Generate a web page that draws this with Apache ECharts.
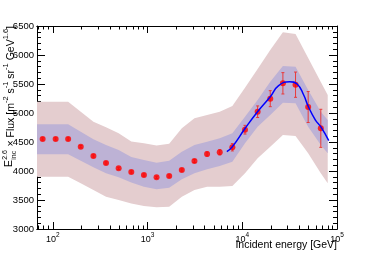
<!DOCTYPE html>
<html><head><meta charset="utf-8">
<script src="https://cdn.jsdelivr.net/npm/echarts@6/dist/echarts.min.js"></script>
<style>html,body{margin:0;padding:0;background:#fff}#c{width:374px;height:255px}</style>
</head><body><div id="c"></div>
<script>
// Measured points
const energies = [78,107,145,197,268,364,495,673,915,1244,1691,2299,3126,4250,5778,7856,10680,14520,19740,26840,36490,49610,67450];
const flux = [4552,4552,4552,4419,4259,4138,4046,3983,3931,3891,3914,4017,4172,4293,4322,4409,4712,5022,5247,5512,5488,5103,4736];
const fluxErr = [20,20,20,20,20,20,20,20,20,20,20,20,25,35,45,63,75,100,138,184,218,267,328];
// Band vertices (axis start, each point energy, band end)
const bandEnergies = [68,78,107,145,197,268,364,495,673,915,1244,1691,2299,3126,4250,5778,7856,10680,14520,19740,26840,36490,49610,67450,79800];
const outerHigh = [5195,5195,5195,5195,5022,4850,4753,4650,4510,4480,4440,4470,4736,4908,4966,5022,5121,5437,5759,6086,6391,6362,5948,5534,5310];
const innerHigh = [4805,4805,4805,4805,4678,4546,4448,4362,4240,4190,4143,4178,4333,4448,4506,4563,4650,4937,5224,5540,5810,5799,5397,5022,4879];
const innerLow  = [4288,4288,4288,4288,4178,4063,3960,3891,3800,3730,3684,3713,3857,3960,4029,4086,4161,4477,4764,4966,5178,5167,4764,4448,4305];
const outerLow  = [3902,3902,3902,3902,3788,3672,3557,3500,3440,3397,3374,3385,3557,3672,3730,3730,3740,3960,4219,4420,4621,4603,4305,3960,3788];
// Fitted curve
const curveE = [6867,7870,10730,14490,19750,24180,31640,37870,44490,49530,59180,67330,81850];
const curveV = [4333,4420,4736,5022,5281,5471,5540,5500,5310,5121,4879,4764,4523];
// Axis ticks
const xMajorTicks = [100,1000,10000,100000];
const xMinorTicks = [70,80,90,200,300,400,500,600,700,800,900,2000,3000,4000,5000,6000,7000,8000,9000,20000,30000,40000,50000,60000,70000,80000,90000];
const xMin = 68, xMax = 100000;
const yMin = 3000, yMax = 6500, yStep = 500;

const FONT = 'Liberation Sans, Arial, Helvetica, sans-serif';
const chart = echarts.init(document.getElementById('c'), null, {renderer: 'canvas'});

function bandSeries(high, low, color) {
  return {
    type: 'custom', xAxisIndex: 0, yAxisIndex: 0, silent: true,
    data: bandEnergies.map((e, i) => [e, high[i], low[i]]),
    encode: {x: 0, y: [1, 2]},
    renderItem: function (params, api) {
      if (params.dataIndexInside !== 0) return null;
      const n = params.dataInsideLength;
      const top = [], bot = [];
      for (let i = 0; i < n; i++) {
        top.push(api.coord([api.value(0, i), api.value(1, i)]));
        bot.push(api.coord([api.value(0, i), api.value(2, i)]));
      }
      return {type: 'polygon', shape: {points: top.concat(bot.reverse())}, style: {fill: color}};
    }
  };
}

function xAxisCfg(pos, ticks, len, labels) {
  return {
    type: 'log', logBase: 10, min: xMin, max: xMax, position: pos,
    axisLine: {show: true, onZero: false, lineStyle: {color: '#000', width: 1}},
    axisTick: {show: true, inside: true, length: len, customValues: ticks, lineStyle: {color: '#000', width: 1}},
    axisLabel: labels ? {
      show: true, margin: 3, customValues: xMajorTicks,
      formatter: v => '{b|10}{s|' + Math.round(Math.log10(v)) + '}',
      rich: {
        b: {fontSize: 9, fontFamily: FONT, color: '#000', verticalAlign: 'bottom', lineHeight: 12},
        s: {fontSize: 6.5, fontFamily: FONT, color: '#000', verticalAlign: 'top', lineHeight: 12}
      }
    } : {show: false},
    splitLine: {show: false}, minorSplitLine: {show: false}
  };
}
function yAxisCfg(pos, labels) {
  return {
    type: 'value', min: yMin, max: yMax, interval: yStep, position: pos,
    axisLine: {show: true, onZero: false, lineStyle: {color: '#000', width: 1}},
    axisTick: {show: true, inside: true, length: 8, lineStyle: {color: '#000', width: 1}},
    minorTick: {show: true, splitNumber: 5, length: 4, lineStyle: {color: '#000', width: 1}},
    axisLabel: labels ? {show: true, margin: 3, fontSize: 9.5, fontFamily: FONT, color: '#000', formatter: v => String(v)} : {show: false},
    splitLine: {show: false}, minorSplitLine: {show: false}
  };
}

const option = {
  animation: false,
  backgroundColor: '#fff',
  grid: {left: 37, right: 37, top: 26, bottom: 26},
  xAxis: [
    xAxisCfg('bottom', xMajorTicks, 7, true),
    xAxisCfg('bottom', xMinorTicks, 3.5, false),
    xAxisCfg('top', xMajorTicks, 7, false),
    xAxisCfg('top', xMinorTicks, 3.5, false)
  ],
  yAxis: [yAxisCfg('left', true), yAxisCfg('right', false)],
  graphic: [
    {
      type: 'text', right: 37, top: 240, silent: true,
      style: {text: 'Incident energy [GeV]', font: '10.5px ' + FONT, fill: '#000'}
    },
    {
      type: 'group', x: 9.5, y: 167, rotation: Math.PI / 2, silent: true,
      children: [
        {type: 'text', style: {x: 0, y: 0, text: 'E', font: '10.5px ' + FONT, fill: '#000', verticalAlign: 'middle'}},
        {type: 'text', style: {x: 7.2, y: -4.5, text: '2.6', font: '7px ' + FONT, fill: '#000', verticalAlign: 'middle'}},
        {type: 'text', style: {x: 7.2, y: 4.5, text: 'inc', font: '7px ' + FONT, fill: '#000', verticalAlign: 'middle'}},
        {type: 'text', style: {
          x: 17.5, y: 0, verticalAlign: 'middle',
          text: '{m| × Flux [m}{s|-2}{m| s}{s|-1}{m| sr}{s|-1}{m| GeV}{s|1.6}{m|]}',
          rich: {
            m: {fontSize: 10.5, fontFamily: FONT, fill: '#000', color: '#000', verticalAlign: 'bottom', lineHeight: 15},
            s: {fontSize: 7.5, fontFamily: FONT, fill: '#000', color: '#000', verticalAlign: 'top', lineHeight: 15}
          }
        }}
      ]
    }
  ],
  series: [
    bandSeries(outerHigh, outerLow, '#e4cdcf'),
    bandSeries(innerHigh, innerLow, '#bdb2d5'),
    {
      type: 'line', xAxisIndex: 0, yAxisIndex: 0, smooth: true, symbol: 'none', silent: true,
      data: curveE.map((e, i) => [e, curveV[i]]),
      lineStyle: {color: '#0000ff', width: 1.5}
    },
    {
      type: 'custom', xAxisIndex: 0, yAxisIndex: 0, silent: true,
      data: energies.map((e, i) => [e, flux[i] - fluxErr[i], flux[i] + fluxErr[i]]),
      encode: {x: 0, y: [1, 2]},
      renderItem: function (params, api) {
        const lo = api.coord([api.value(0), api.value(1)]);
        const hi = api.coord([api.value(0), api.value(2)]);
        const st = {stroke: '#e83a3a', lineWidth: 1};
        return {type: 'group', children: [
          {type: 'line', shape: {x1: lo[0], y1: lo[1], x2: hi[0], y2: hi[1]}, style: st},
          {type: 'line', shape: {x1: lo[0] - 1.5, y1: lo[1], x2: lo[0] + 1.5, y2: lo[1]}, style: st},
          {type: 'line', shape: {x1: hi[0] - 1.5, y1: hi[1], x2: hi[0] + 1.5, y2: hi[1]}, style: st}
        ]};
      }
    },
    {
      type: 'scatter', xAxisIndex: 0, yAxisIndex: 0, silent: true,
      data: energies.map((e, i) => [e, flux[i]]),
      symbol: 'circle', symbolSize: 6,
      itemStyle: {color: '#ff0000'}
    }
  ]
};
chart.setOption(option);
</script>
</body></html>
